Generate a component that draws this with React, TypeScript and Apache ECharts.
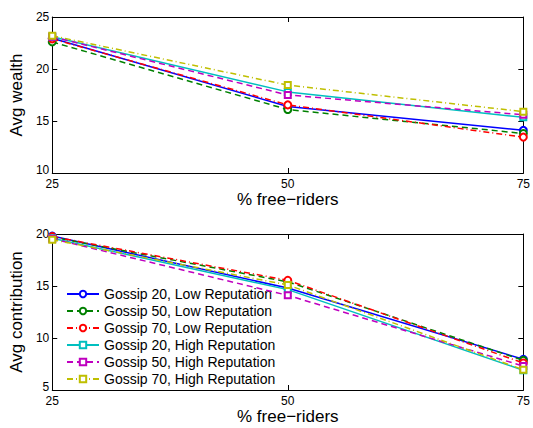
import React, { useEffect, useRef } from "react";
import * as echarts from "echarts";

const xValues = [25, 50, 75];
const seriesNames = [
  "Gossip 20, Low Reputation",
  "Gossip 50, Low Reputation",
  "Gossip 70, Low Reputation",
  "Gossip 20, High Reputation",
  "Gossip 50, High Reputation",
  "Gossip 70, High Reputation",
];
// Avg wealth (top panel)
const wealthG20Low = [22.95, 16.4, 14.1];
const wealthG50Low = [22.6, 16.1, 13.8];
const wealthG70Low = [22.9, 16.55, 13.45];
const wealthG20High = [23.1, 17.8, 15.35];
const wealthG50High = [23.1, 17.5, 15.6];
const wealthG70High = [23.2, 18.45, 15.9];
// Avg contribution (bottom panel)
const contribG20Low = [19.8, 14.8, 7.95];
const contribG50Low = [19.7, 15.4, 7.85];
const contribG70Low = [19.75, 15.55, 7.6];
const contribG20High = [19.6, 14.65, 6.9];
const contribG50High = [19.55, 14.1, 7.3];
const contribG70High = [19.45, 15.1, 6.95];

const wealthData = [wealthG20Low, wealthG50Low, wealthG70Low, wealthG20High, wealthG50High, wealthG70High];
const contribData = [contribG20Low, contribG50Low, contribG70Low, contribG20High, contribG50High, contribG70High];

const colors = ["#0000FF", "#008000", "#FF0000", "#00BFBF", "#BF00BF", "#BFBF00"];
const lineTypes: any[] = ["solid", [6, 4], [6, 3, 1, 3], "solid", [6, 4], [6, 3, 1, 3]];
const symbols = ["emptyCircle", "emptyCircle", "emptyCircle", "emptyRect", "emptyRect", "emptyRect"];

const FONT = "'Liberation Sans', Arial, Helvetica, sans-serif";

export default function App() {
  const ref = useRef<HTMLDivElement>(null);
  useEffect(() => {
    if (!ref.current) return;
    const chart = echarts.init(ref.current, undefined, { renderer: "svg" });

    const axisLine = { show: true, lineStyle: { color: "#000", width: 1 } };
    const tickIn = { show: true, inside: true, length: 5, lineStyle: { color: "#000" } };
    const labelStyle = { color: "#000", fontSize: 12, fontFamily: FONT };
    const nameStyle = { color: "#000", fontSize: 17, fontFamily: FONT };

    const mkX = (gridIndex: number) => [
      {
        type: "value", gridIndex, min: 25, max: 75, interval: 25, position: "bottom",
        axisLine, axisTick: tickIn, splitLine: { show: false },
        axisLabel: { ...labelStyle, margin: 5, showMinLabel: true, showMaxLabel: true },
        name: "% free\u2212riders", nameLocation: "middle", nameGap: 16, nameTextStyle: nameStyle,
      },
      {
        type: "value", gridIndex, min: 25, max: 75, interval: 25, position: "top",
        axisLine, axisTick: tickIn, splitLine: { show: false }, axisLabel: { show: false },
      },
    ];
    const mkY = (gridIndex: number, min: number, max: number, name: string) => [
      {
        type: "value", gridIndex, min, max, interval: 5, position: "left",
        axisLine, axisTick: tickIn, splitLine: { show: false },
        axisLabel: {
          ...labelStyle,
          margin: 3,
          formatter: (v: number) => (v === min ? "{low|" + v + "}" : String(v)),
          rich: { low: { color: "#000", fontSize: 12, fontFamily: FONT, padding: [0, 0, 6, 0] } },
        },
        name, nameLocation: "middle", nameGap: 22, nameTextStyle: nameStyle,
      },
      {
        type: "value", gridIndex, min, max, interval: 5, position: "right",
        axisLine, axisTick: tickIn, splitLine: { show: false }, axisLabel: { show: false },
      },
    ];

    const mkSeries = (data: number[][], xAxisIndex: number, yAxisIndex: number) =>
      data.map((vals, i) => ({
        type: "line",
        name: seriesNames[i],
        xAxisIndex,
        yAxisIndex,
        data: xValues.map((x, j) => [x, vals[j]]),
        symbol: symbols[i],
        symbolSize: i < 3 ? 7 : 6,
        showAllSymbol: true,
        lineStyle: { color: colors[i], width: 1.5, type: lineTypes[i] },
        itemStyle: { color: colors[i], borderColor: colors[i], borderWidth: 1.5 },
        clip: false,
        z: 2 + i,
      }));

    chart.setOption({
      animation: false,
      backgroundColor: "#fff",
      textStyle: { fontFamily: FONT },
      grid: [
        { left: 51, right: 5, top: 17, height: 156 },
        { left: 51, right: 5, top: 234, height: 156 },
      ],
      xAxis: [...mkX(0), ...mkX(1)],
      yAxis: [...mkY(0, 10, 25, "Avg wealth"), ...mkY(1, 5, 20, "Avg contribution")],
      legend: {
        data: seriesNames,
        orient: "vertical",
        left: 66,
        top: 287,
        itemWidth: 32,
        itemHeight: 8,
        itemGap: 3,
        padding: 0,
        textStyle: { color: "#000", fontSize: 14, fontFamily: FONT, lineHeight: 14 },
        backgroundColor: "transparent",
      },
      series: [...mkSeries(wealthData, 0, 0), ...mkSeries(contribData, 2, 2)],
    });
    return () => chart.dispose();
  }, []);
  return (
    <div
      ref={ref}
      style={{ position: "fixed", left: 0, top: 0, width: 533, height: 428, background: "#fff" }}
    />
  );
}
